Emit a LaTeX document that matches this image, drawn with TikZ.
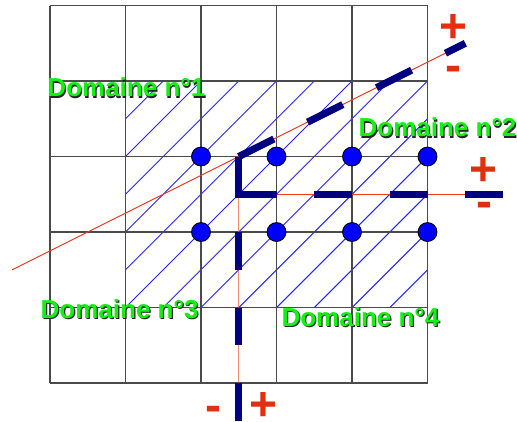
\documentclass[tikz,border=0pt]{standalone}
\usepackage{fontspec}
\setmainfont{Liberation Sans}
\usepackage{tikz}
\usetikzlibrary{positioning}
\definecolor{GridGray}{HTML}{4A4A4A}
\definecolor{HatchBlue}{HTML}{2424FF}
\definecolor{CutNavy}{HTML}{000080}
\definecolor{IfaceRed}{HTML}{F03A1E}
\definecolor{SignRed}{HTML}{E0300E}
\definecolor{DomGreen}{HTML}{14F014}
\newcommand{\shadowed}[1]{\makebox[0pt][l]{\hspace{0.45pt}\raisebox{-0.45pt}{\color{black!85}#1}}#1}

\begin{document}
\begin{tikzpicture}[
            hatch/.style={HatchBlue, line width=0.38pt},
            gridline/.style={GridGray, line width=0.5pt},
            iface/.style={IfaceRed, line width=0.4pt},
            cut/.style={CutNavy, line width=2.7pt, line join=miter},
            cutdash/.style={cut, dash pattern=on 0.5cm off 0.5cm},
            dof/.style={circle, draw=black, line width=0.35pt, fill=blue,
                        minimum size=0.25cm, inner sep=0pt},
            domlabel/.style={anchor=base west, inner sep=0pt,
                             font=\fontsize{9.8}{10}\selectfont\bfseries\color{DomGreen}},
            sign/.style={inner sep=0pt, font=\fontsize{18}{18}\selectfont\bfseries\color{SignRed}}
        ]
            \useasboundingbox (-0.662,-0.503) rectangle (6.185,5.073);
            \begin{scope}
                \clip (1,1) rectangle (5,4);
                \foreach \c in {-2.5,-2,...,3.5}
                    \draw[hatch] (\c,0) -- ++(5,5);
            \end{scope}
            \draw[gridline] (0,0) grid (5,5);

            \coordinate (junc) at (2.5,3);
            \coordinate (diagW) at (-0.5,1.5);
            \coordinate (diagE) at (5.5,4.5);
            \coordinate (horW) at (2.5,2.5);
            \coordinate (horE) at (6,2.5);
            \coordinate (verN) at (2.5,2);
            \coordinate (verS) at (2.5,-0.503);
            \draw[iface] (diagW) -- (junc) -- (diagE);
            \draw[iface] (horW) -- (horE);
            \draw[iface, opacity=.6] (horW) -- (verS);

            \foreach \x in {2,...,5} {
                \node[dof] (up\x) at (\x,3) {};
                \node[dof] (lo\x) at (\x,2) {};
            }

            \draw[cut, dash pattern=on 1cm off .5cm on .5cm off .5cm on .5cm off .5cm on .5cm]
                (junc) -- (horW) -- (horE);
            \draw[cutdash] (verN) -- (verS);
            \draw[cut, dash pattern=on .52cm off .5cm] (junc) -- (diagE);

            \node[domlabel] (dom1) at (-0.04,3.79) {\shadowed{Domaine n°1}};
            \node[domlabel] (dom2) at (4.08,3.26) {\shadowed{Domaine n°2}};
            \node[domlabel] (dom3) at (-0.13,0.86) {\shadowed{Domaine n°3}};
            \node[domlabel] (dom4) at (3.06,0.75) {\shadowed{Domaine n°4}};

            \node[sign] (diagP) at (5.34,4.70) {+};
            \node[sign] (diagM) at (5.35,4.09) {-};
            \node[sign] (horP) at (5.74,2.80) {+};
            \node[sign] (horM) at (5.76,2.29) {-};
            \node[sign] (verM) at (2.16,-0.41) {-};
            \node[sign] (verP) at (2.83,-0.31) {+};
        \end{tikzpicture}
\end{document}
